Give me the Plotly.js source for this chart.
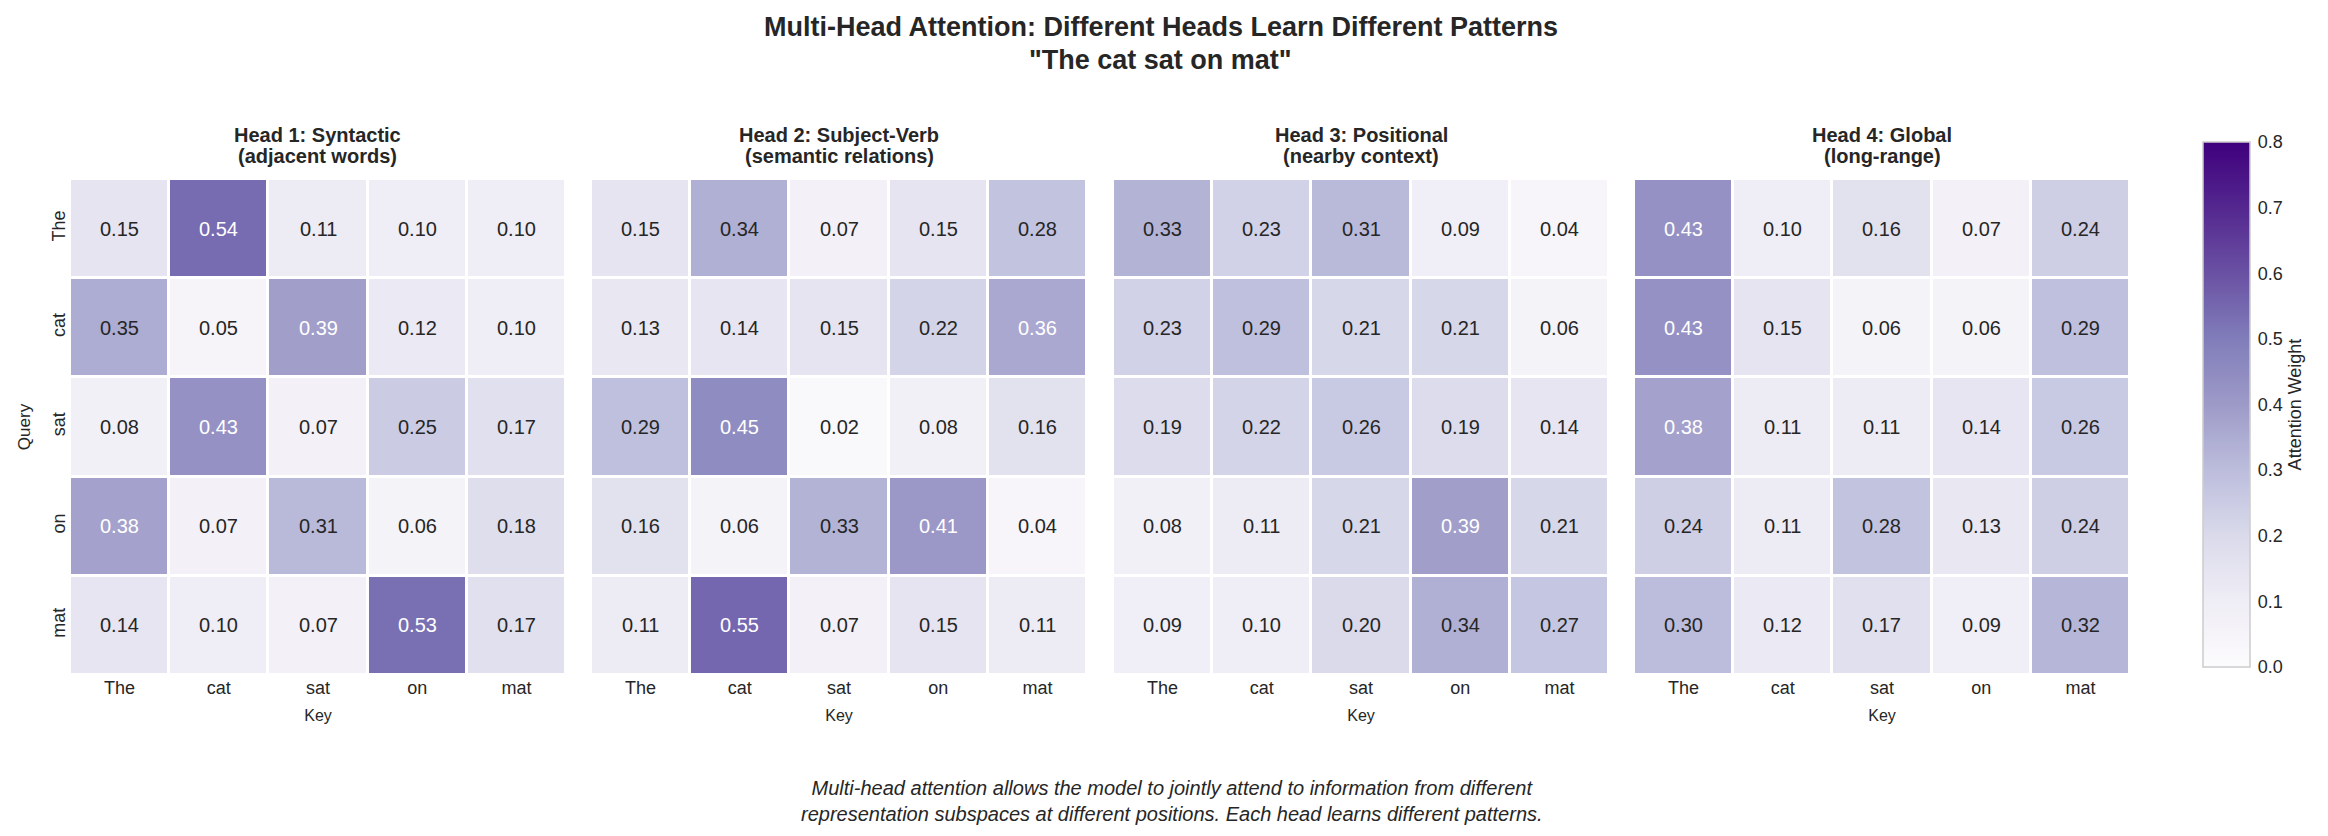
<!DOCTYPE html>
<html>
<head>
<meta charset="utf-8">
<script src="https://cdn.plot.ly/plotly-3.0.1.min.js"></script>
<style>
  html, body { margin: 0; padding: 0; background: #ffffff; }
  #chart { width: 2328px; height: 836px; }
</style>
</head>
<body>
<div id="chart"></div>
<script>
// Tokens of the example sentence (keys along x, queries along y)
const tokens = ["The", "cat", "sat", "on", "mat"];

// Attention weights per head, rows = query token, columns = key token
const head1 = [
  [0.15, 0.54, 0.11, 0.10, 0.10],
  [0.35, 0.05, 0.39, 0.12, 0.10],
  [0.08, 0.43, 0.07, 0.25, 0.17],
  [0.38, 0.07, 0.31, 0.06, 0.18],
  [0.14, 0.10, 0.07, 0.53, 0.17]
];
const head2 = [
  [0.15, 0.34, 0.07, 0.15, 0.28],
  [0.13, 0.14, 0.15, 0.22, 0.36],
  [0.29, 0.45, 0.02, 0.08, 0.16],
  [0.16, 0.06, 0.33, 0.41, 0.04],
  [0.11, 0.55, 0.07, 0.15, 0.11]
];
const head3 = [
  [0.33, 0.23, 0.31, 0.09, 0.04],
  [0.23, 0.29, 0.21, 0.21, 0.06],
  [0.19, 0.22, 0.26, 0.19, 0.14],
  [0.08, 0.11, 0.21, 0.39, 0.21],
  [0.09, 0.10, 0.20, 0.34, 0.27]
];
const head4 = [
  [0.43, 0.10, 0.16, 0.07, 0.24],
  [0.43, 0.15, 0.06, 0.06, 0.29],
  [0.38, 0.11, 0.11, 0.14, 0.26],
  [0.24, 0.11, 0.28, 0.13, 0.24],
  [0.30, 0.12, 0.17, 0.09, 0.32]
];

// Panel headings: name line and description line
const headNames = ["Head 1: Syntactic", "Head 2: Subject-Verb", "Head 3: Positional", "Head 4: Global"];
const headNotes = ["(adjacent words)", "(semantic relations)", "(nearby context)", "(long-range)"];

const heads = [head1, head2, head3, head4];

const W = 2328, H = 836;
const FONT = "Liberation Sans, Arial, Helvetica, sans-serif";
const INK = "#262626";

// Purples colour map
const purples = [
  [0.000, "#fcfbfd"], [0.125, "#efedf5"], [0.250, "#dadaeb"],
  [0.375, "#bcbddc"], [0.500, "#9e9ac8"], [0.625, "#807dba"],
  [0.750, "#6a51a3"], [0.875, "#54278f"], [1.000, "#3f007d"]
];

// Panel placement in pixels
const panelLeft = [70, 591, 1113, 1634];
const panelWidth = 496;
const panelTop = 179, panelBottom = 675;

const px = v => v / W;
const py = v => 1 - v / H;

const traces = [];
const annotations = [];
const layout = {
  width: W, height: H,
  margin: { l: 0, r: 0, t: 0, b: 0 },
  paper_bgcolor: "#ffffff",
  plot_bgcolor: "#ffffff",
  font: { family: FONT, color: INK },
  showlegend: false
};

// Two-line bold heading
annotations.push({
  xref: "paper", yref: "paper",
  x: 0.4985, y: py(27), xanchor: "center", yanchor: "middle",
  text: "<b>Multi-Head Attention: Different Heads Learn Different Patterns</b>",
  showarrow: false, font: { family: FONT, size: 27, color: INK }
});
annotations.push({
  xref: "paper", yref: "paper",
  x: 0.4985, y: py(60), xanchor: "center", yanchor: "middle",
  text: "<b>\"The cat sat on mat\"</b>",
  showarrow: false, font: { family: FONT, size: 27, color: INK }
});

heads.forEach((z, h) => {
  const sfx = h === 0 ? "" : String(h + 1);
  const trace = {
    type: "heatmap",
    z: z,
    x: tokens,
    y: tokens,
    xaxis: "x" + sfx,
    yaxis: "y" + sfx,
    colorscale: purples,
    zmin: 0, zmax: 0.8,
    xgap: 3, ygap: 3,
    hoverinfo: "skip",
    showscale: h === 0
  };
  if (h === 0) {
    trace.colorbar = {
      x: px(2203), xanchor: "left", xpad: 0,
      y: py(142), yanchor: "top", ypad: 0,
      lenmode: "pixels", len: 525,
      thickness: 47,
      outlinecolor: "#cccccc", outlinewidth: 1.5,
      tickvals: [0, 0.1, 0.2, 0.3, 0.4, 0.5, 0.6, 0.7, 0.8],
      tickformat: ".1f",
      ticks: "outside", ticklen: 4, tickcolor: "rgba(0,0,0,0)",
      tickfont: { family: FONT, size: 18, color: INK },
      title: { text: "Attention Weight", side: "right", font: { family: FONT, size: 18, color: INK } }
    };
  }
  traces.push(trace);

  layout["xaxis" + sfx] = {
    domain: [px(panelLeft[h]), px(panelLeft[h] + panelWidth)],
    anchor: "y" + sfx,
    type: "category",
    categoryorder: "array", categoryarray: tokens,
    showgrid: false, zeroline: false, showline: false,
    ticks: "", tickfont: { family: FONT, size: 18, color: INK },
    title: { text: "Key", font: { family: FONT, size: 16, color: INK }, standoff: 12 },
    fixedrange: true
  };
  layout["yaxis" + sfx] = {
    domain: [py(panelBottom), py(panelTop)],
    anchor: "x" + sfx,
    type: "category",
    categoryorder: "array", categoryarray: tokens,
    autorange: "reversed",
    showgrid: false, zeroline: false, showline: false,
    ticks: "",
    showticklabels: h === 0,
    tickangle: -90,
    tickfont: { family: FONT, size: 18, color: INK },
    title: h === 0 ? { text: "Query", font: { family: FONT, size: 17, color: INK }, standoff: 14 } : { text: "" },
    fixedrange: true
  };

  // Panel heading, two lines
  const cx = px(panelLeft[h] + panelWidth / 2);
  annotations.push({
    xref: "paper", yref: "paper", x: cx, y: py(135),
    xanchor: "center", yanchor: "middle",
    text: "<b>" + headNames[h] + "</b>",
    showarrow: false, font: { family: FONT, size: 20, color: INK }
  });
  annotations.push({
    xref: "paper", yref: "paper", x: cx, y: py(156),
    xanchor: "center", yanchor: "middle",
    text: "<b>" + headNotes[h] + "</b>",
    showarrow: false, font: { family: FONT, size: 20, color: INK }
  });

  // Weight printed in each cell
  z.forEach((row, i) => {
    row.forEach((v, j) => {
      annotations.push({
        xref: "x" + sfx, yref: "y" + sfx,
        x: tokens[j], y: tokens[i],
        text: v.toFixed(2),
        showarrow: false,
        font: { family: FONT, size: 20, color: v > 0.355 ? "#ffffff" : INK }
      });
    });
  });
});

// Explanatory note under the panels
annotations.push({
  xref: "paper", yref: "paper",
  x: px(1172), y: py(801),
  xanchor: "center", yanchor: "middle",
  text: "<i>Multi-head attention allows the model to jointly attend to information from different<br>representation subspaces at different positions. Each head learns different patterns.</i>",
  showarrow: false,
  font: { family: FONT, size: 20, color: INK }
});

layout.annotations = annotations;

Plotly.newPlot("chart", traces, layout, { displayModeBar: false, staticPlot: true });
</script>
</body>
</html>
